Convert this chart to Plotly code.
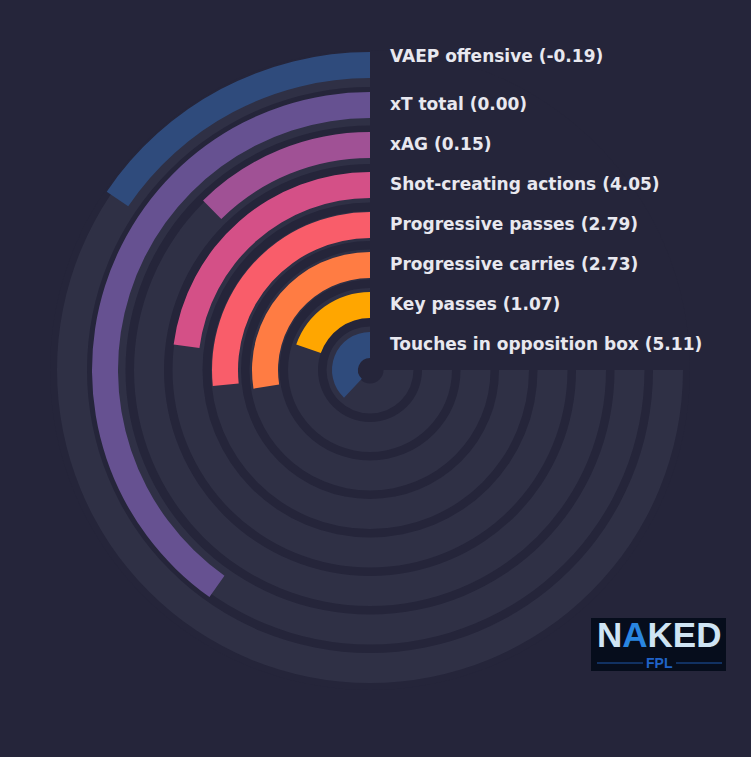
import plotly.graph_objects as go

# ---- data (outermost ring first) ----
metrics = ["VAEP offensive", "xT total", "xAG", "Shot-creating actions",
           "Progressive passes", "Progressive carries", "Key passes",
           "Touches in opposition box"]
values = [-0.19, 0.00, 0.15, 4.05, 2.79, 2.73, 1.07, 5.11]
percentiles = [20.7, 53.6, 16.5, 30.6, 35.5, 36.7, 26.3, 50.7]
colors = ["#2f4b7c", "#665191", "#a05195", "#d45087",
          "#f95d6a", "#ff7c43", "#ffa600", "#2f4b7c"]

BG = "#25253a"
TRACK = "#2f3045"
TEXT = "#e8e8ef"
W, H = 751, 757
CX, CY, RPX = 370, 370, 320  # polar centre & radius in px
SPAN = 270.0

n = len(metrics)
bar_base = [12 + 40 * (n - 1 - i) for i in range(n)]
bar_thick = 26
track_outer = [313 - 38.5 * i for i in range(n)]
track_base = [t - 30 for t in track_outer]

fig = go.Figure()

fig.add_trace(go.Barpolar(
    r=[30] * n, base=track_base, theta=[SPAN / 2] * n, width=[SPAN] * n,
    marker=dict(color=TRACK, line=dict(width=0)), hoverinfo="skip", showlegend=False))

fig.add_trace(go.Barpolar(
    r=[bar_thick] * n, base=bar_base,
    theta=[p / 100 * SPAN / 2 for p in percentiles],
    width=[p / 100 * SPAN for p in percentiles],
    marker=dict(color=colors, line=dict(width=0)),
    text=metrics, hoverinfo="text", showlegend=False))

annotations = []
for i, (m, v) in enumerate(zip(metrics, values)):
    rc = bar_base[i] + bar_thick / 2
    ypx = CY - rc - (9 if i == 0 else 1.5)
    annotations.append(dict(
        x=388 / W, y=1 - ypx / H, xref="paper", yref="paper",
        xanchor="left", yanchor="middle", showarrow=False,
        text=f"{m} ({v:.2f})",
        font=dict(family="DejaVu Sans", size=17, color=TEXT, weight="bold")))

# logo (text-based)
annotations.append(dict(
    x=659 / W, y=1 - 634 / H, xref="paper", yref="paper", xanchor="center",
    yanchor="middle", showarrow=False,
    text="N<span style='color:#2a86e0'>A</span>KED",
    font=dict(family="Liberation Sans", size=35, color="#cfe4f4", weight="bold")))
annotations.append(dict(
    x=659 / W, y=1 - 663 / H, xref="paper", yref="paper", xanchor="center",
    yanchor="middle", showarrow=False, text="FPL",
    font=dict(family="Liberation Sans", size=14, color="#2063c8", weight="bold")))

shapes = [
    dict(type="rect", xref="paper", yref="paper",
         x0=591 / W, x1=726 / W, y0=1 - 671 / H, y1=1 - 618 / H,
         fillcolor="#060d1c", line=dict(width=0), layer="below"),
    dict(type="line", xref="paper", yref="paper",
         x0=597 / W, x1=643 / W, y0=1 - 663 / H, y1=1 - 663 / H,
         line=dict(color="#1d56a8", width=1)),
    dict(type="line", xref="paper", yref="paper",
         x0=676 / W, x1=722 / W, y0=1 - 663 / H, y1=1 - 663 / H,
         line=dict(color="#1d56a8", width=1)),
]

fig.update_layout(
    width=W, height=H, margin=dict(l=0, r=0, t=0, b=0),
    paper_bgcolor=BG, plot_bgcolor=BG,
    polar=dict(
        domain=dict(x=[(CX - RPX) / W, (CX + RPX) / W],
                    y=[1 - (CY + RPX) / H, 1 - (CY - RPX) / H]),
        bgcolor=BG,
        radialaxis=dict(visible=False, range=[0, RPX]),
        angularaxis=dict(visible=False, rotation=90, direction="counterclockwise"),
        barmode="overlay",
    ),
    annotations=annotations, shapes=shapes,
)

fig.write_html(
    "out.html",
    config={"displayModeBar": False},
    post_script="document.body.style.margin='0';"
                "document.body.style.overflow='hidden';"
                "document.body.style.background='#25253a';",
)
